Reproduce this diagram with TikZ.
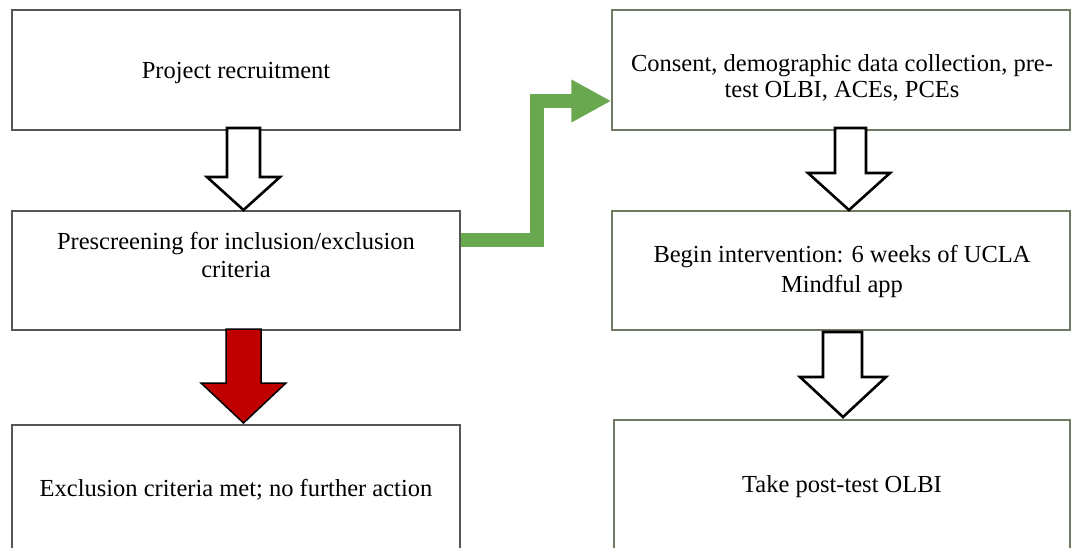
\documentclass[tikz,border=0pt]{standalone}
\usepackage{fontspec}
\setmainfont{Liberation Serif}
\usetikzlibrary{arrows.meta}
\definecolor{leftbd}{HTML}{555555}
\definecolor{rightbd}{HTML}{6E7B60}
\definecolor{garrow}{HTML}{6AA84F}
\definecolor{rarrow}{HTML}{C00000}
\tikzset{
  boxL/.style={draw=leftbd, line width=1.4pt, fill=white, inner sep=0pt},
  boxR/.style={draw=rightbd, line width=1.4pt, fill=white, inner sep=0pt},
  txt/.style={align=center, inner sep=0pt, font=\fontsize{24.5}{28}\selectfont},
  hollow/.style={draw=black, line width=2.6pt, fill=white, line join=miter},
  redarr/.style={draw=black, line width=1.5pt, fill=rarrow, line join=miter},
  greenarr/.style={draw=garrow, line width=14pt, line join=miter, -{Triangle[length=40pt,width=40pt]}}
}
\begin{document}
\begin{tikzpicture}[x=1pt,y=-1pt]
\useasboundingbox (0,0) rectangle (1071,548);
\clip (0,0) rectangle (1071,548);
\fill[white] (0,0) rectangle (1071,548);
% left column boxes
\node[boxL, minimum width=448pt, minimum height=120pt] (b1) at (236,70) {};
\node[boxL, minimum width=448pt, minimum height=119pt] (b2) at (236,270.5) {};
\node[boxL, minimum width=448pt, minimum height=126pt] (b3) at (236,488) {};
% right column boxes
\node[boxR, minimum width=458pt, minimum height=120pt] (b4) at (841,70) {};
\node[boxR, minimum width=458pt, minimum height=119pt] (b5) at (841,270.5) {};
\node[boxR, minimum width=456pt, minimum height=130pt] (b6) at (842,485) {};
% texts
\node[txt] (t1) at (236,73) {Project recruitment};
\node[txt] (t2) at (236,255) {Prescreening for inclusion/exclusion\\criteria};
\node[txt] (t3) at (236,490) {Exclusion criteria met; no further action};
\node[txt, font=\fontsize{24.5}{26}\selectfont] (t4) at (842,78) {Consent, demographic data collection, pre-\\test OLBI, ACEs, PCEs};
\node[txt, font=\fontsize{24.5}{30}\selectfont] (t5) at (842,271) {Begin intervention: 6 weeks of UCLA\\Mindful app};
\node[txt] (t6) at (842,487) {Take post-test OLBI};
% hollow arrow b1 -> b2
\draw[hollow] (227,128) -- (260,128) -- (260,177) -- (280,177) -- (243.5,210) -- (207,177) -- (227,177) -- cycle;
% red arrow b2 -> b3
\draw[redarr] (226,329) -- (261,329) -- (261,383) -- (286,383) -- (243.5,423) -- (201,383) -- (226,383) -- cycle;
% hollow arrow b4 -> b5
\draw[hollow] (835,128) -- (866,128) -- (866,173) -- (890,173) -- (849,210) -- (808,173) -- (835,173) -- cycle;
% hollow arrow b5 -> b6
\draw[hollow] (823,332) -- (862,332) -- (862,377) -- (886,377) -- (843,417) -- (800,377) -- (823,377) -- cycle;
% green arrow b2 -> b4
\coordinate (g1) at (537,240);
\coordinate (g2) at (537,101);
\draw[greenarr] (b2.east |- g1) -- (g1) -- (g2) -- (b4.west |- g2);
\end{tikzpicture}
\end{document}
